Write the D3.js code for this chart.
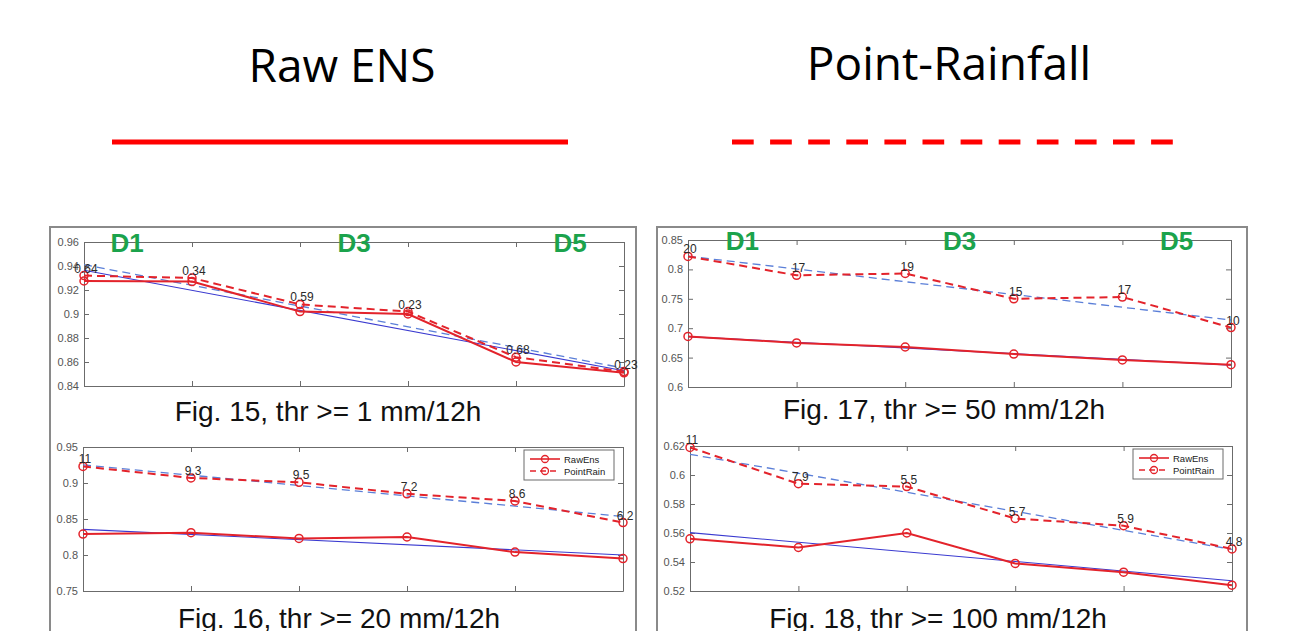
<!DOCTYPE html>
<html>
<head>
<meta charset="utf-8">
<script src="https://cdn.jsdelivr.net/npm/d3@7"></script>
<style>
	body { margin: 0; background: #fff; }
	svg { display: block; }
	text { font-family: "Liberation Sans", Arial, sans-serif; }
	.slideTitle { font-family: "Open Sans", "Noto Sans", sans-serif; fill: #000; }
</style>
</head>
<body>
<div id="chart"></div>
<script>
// lead time steps (x axis of every small plot)
var leadSteps = [1, 2, 3, 4, 5, 6];

var fig15Raw    = [0.9275, 0.927, 0.902, 0.900, 0.860, 0.851];
var fig15Point  = [0.932, 0.930, 0.908, 0.902, 0.864, 0.852];
var fig15Labels = ['0.64', '0.34', '0.59', '0.23', '0.68', '0.23'];
var fig15Ticks  = [0.84, 0.86, 0.88, 0.9, 0.92, 0.94, 0.96];

var fig17Raw    = [0.686, 0.675, 0.668, 0.656, 0.646, 0.638];
var fig17Point  = [0.822, 0.790, 0.793, 0.750, 0.753, 0.701];
var fig17Labels = ['20', '17', '19', '15', '17', '10'];
var fig17Ticks  = [0.6, 0.65, 0.7, 0.75, 0.8, 0.85];

var fig16Raw    = [0.829, 0.831, 0.823, 0.825, 0.804, 0.795];
var fig16Point  = [0.923, 0.907, 0.901, 0.885, 0.875, 0.845];
var fig16Labels = ['11', '9.3', '9.5', '7.2', '8.6', '6.2'];
var fig16Ticks  = [0.75, 0.8, 0.85, 0.9, 0.95];

var fig18Raw    = [0.556, 0.550, 0.560, 0.539, 0.533, 0.524];
var fig18Point  = [0.619, 0.594, 0.592, 0.570, 0.565, 0.549];
var fig18Labels = ['11', '7.9', '5.5', '5.7', '5.9', '4.8'];
var fig18Ticks  = [0.52, 0.54, 0.56, 0.58, 0.6, 0.62];

var dayNames      = ['D1', 'D3', 'D5'];
var dayStepsLeft  = [1.4, 3.5, 5.5];
var dayStepsRight = [1.5, 3.5, 5.5];
var seriesNames   = ['RawEns', 'PointRain'];

var RED = '#e3232b';

var svg = d3.select('#chart')
	.append('svg')
	.attr('width', 1297)
	.attr('height', 631);

svg.append('rect').attr('width', 1297).attr('height', 631).attr('fill', '#fff');

// slide headers
svg.append('text').attr('class', 'slideTitle')
	.attr('x', 342).attr('y', 82).attr('text-anchor', 'middle')
	.attr('font-size', 46).text('Raw ENS');
svg.append('text').attr('class', 'slideTitle')
	.attr('x', 949).attr('y', 80).attr('text-anchor', 'middle')
	.attr('font-size', 46).text('Point-Rainfall');

svg.append('line')
	.attr('x1', 112).attr('x2', 568).attr('y1', 142).attr('y2', 142)
	.attr('stroke', '#ff0000').attr('stroke-width', 5);
svg.append('line')
	.attr('x1', 732).attr('x2', 1173).attr('y1', 142).attr('y2', 142)
	.attr('stroke', '#ff0000').attr('stroke-width', 5)
	.attr('stroke-dasharray', '21.7,16.4');

// outer frames of the two pasted figure columns
svg.append('rect').attr('x', 50).attr('y', 227).attr('width', 586).attr('height', 420)
	.attr('fill', 'none').attr('stroke', '#8a8a8a').attr('stroke-width', 2);
svg.append('rect').attr('x', 657).attr('y', 227).attr('width', 590).attr('height', 420)
	.attr('fill', 'none').attr('stroke', '#8a8a8a').attr('stroke-width', 2);

// least squares fit, the blue lines of the matlab figures
function linearFit(xs, ys){
	var mx = d3.mean(xs), my = d3.mean(ys);
	var sxy = d3.sum(xs, function(x, i){ return (x - mx) * (ys[i] - my); });
	var sxx = d3.sum(xs, function(x){ return (x - mx) * (x - mx); });
	var b = sxy / sxx;
	return function(x){ return my + b * (x - mx); };
}

function drawPanel(p){
	var g = svg.append('g');

	var x = d3.scaleLinear().domain(d3.extent(leadSteps)).range([p.left, p.right]);
	var y = d3.scaleLinear().domain(d3.extent(p.ticks)).range([p.bottom, p.top]);

	var fmt = d3.format('~g');

	g.append('rect')
		.attr('x', p.left).attr('y', p.top)
		.attr('width', p.right - p.left).attr('height', p.bottom - p.top)
		.attr('fill', '#fff');

	var axes = [
		{ a: d3.axisLeft(y).tickValues(p.ticks).tickFormat(fmt), t: 'translate(' + p.left + ',0)' },
		{ a: d3.axisRight(y).tickValues(p.ticks).tickFormat(''), t: 'translate(' + p.right + ',0)' },
		{ a: d3.axisBottom(x).tickValues(leadSteps).tickFormat(''), t: 'translate(0,' + p.bottom + ')' },
		{ a: d3.axisTop(x).tickValues(leadSteps).tickFormat(''), t: 'translate(0,' + p.top + ')' }
	];
	axes.forEach(function(ax){
		var s = g.append('g')
			.attr('transform', ax.t)
			.call(ax.a.tickSizeInner(-5).tickSizeOuter(0).tickPadding(5));
		s.select('.domain').attr('stroke', '#6b6b6b');
		s.selectAll('.tick line').attr('stroke', '#6b6b6b');
		s.selectAll('.tick text')
			.attr('fill', '#555')
			.attr('font-size', 11)
			.attr('font-family', '"Liberation Sans", Arial, sans-serif');
	});

	// trend lines
	var fitRaw = linearFit(leadSteps, p.raw);
	var fitPoint = linearFit(leadSteps, p.point);
	var ends = d3.extent(leadSteps);

	g.append('line')
		.attr('x1', x(ends[0])).attr('y1', y(fitRaw(ends[0])))
		.attr('x2', x(ends[1])).attr('y2', y(fitRaw(ends[1])))
		.attr('stroke', '#3a3ad0').attr('stroke-width', 1.1);
	g.append('line')
		.attr('x1', x(ends[0])).attr('y1', y(fitPoint(ends[0])))
		.attr('x2', x(ends[1])).attr('y2', y(fitPoint(ends[1])))
		.attr('stroke', '#5b7fd8').attr('stroke-width', 1.3)
		.attr('stroke-dasharray', '8,5');

	var line = d3.line()
		.x(function(d, i){ return x(leadSteps[i]); })
		.y(function(d){ return y(d); });

	g.append('path').datum(p.raw)
		.attr('d', line).attr('fill', 'none')
		.attr('stroke', RED).attr('stroke-width', 2);
	g.append('path').datum(p.point)
		.attr('d', line).attr('fill', 'none')
		.attr('stroke', RED).attr('stroke-width', 2)
		.attr('stroke-dasharray', '8,5');

	[p.raw, p.point].forEach(function(series){
		g.selectAll(null)
			.data(series)
			.enter()
			.append('circle')
			.attr('cx', function(d, i){ return x(leadSteps[i]); })
			.attr('cy', function(d){ return y(d); })
			.attr('r', 4)
			.attr('fill', 'none')
			.attr('stroke', RED)
			.attr('stroke-width', 1.5);
	});

	// numbers written over the point rainfall markers
	g.selectAll(null)
		.data(p.labels)
		.enter()
		.append('text')
		.attr('x', function(d, i){ return x(leadSteps[i]) + 2; })
		.attr('y', function(d, i){ return y(p.point[i]) - 3; })
		.attr('text-anchor', 'middle')
		.attr('font-size', 12)
		.attr('fill', '#2a2a2a')
		.text(function(d){ return d; });

	if (p.days) {
		g.selectAll(null)
			.data(dayNames)
			.enter()
			.append('text')
			.attr('x', function(d, i){ return x(p.days[i]); })
			.attr('y', p.top + 10)
			.attr('text-anchor', 'middle')
			.attr('font-size', 26)
			.attr('font-weight', 'bold')
			.attr('fill', '#1ba34c')
			.text(function(d){ return d; });
	}

	if (p.legend) {
		var lw = 90, lh = 30;
		var lx = p.right - 9 - lw, ly = p.top + 3;
		var lg = g.append('g').attr('transform', 'translate(' + lx + ',' + ly + ')');
		lg.append('rect').attr('width', lw).attr('height', lh)
			.attr('fill', '#fff').attr('stroke', '#6b6b6b').attr('stroke-width', 1);
		seriesNames.forEach(function(name, i){
			var ry = 9 + i * 12;
			lg.append('line')
				.attr('x1', 6).attr('x2', 36).attr('y1', ry).attr('y2', ry)
				.attr('stroke', RED).attr('stroke-width', 1.6)
				.attr('stroke-dasharray', i ? '6,4' : null);
			lg.append('circle').attr('cx', 21).attr('cy', ry).attr('r', 3.5)
				.attr('fill', 'none').attr('stroke', RED).attr('stroke-width', 1.3);
			lg.append('text').attr('x', 40).attr('y', ry + 3.5)
				.attr('font-size', 9.5).attr('fill', '#222').text(name);
		});
	}

	svg.append('text')
		.attr('x', p.capX).attr('y', p.capY)
		.attr('text-anchor', 'middle')
		.attr('font-size', 28)
		.attr('fill', '#111')
		.text(p.caption);
}

drawPanel({ raw: fig15Raw, point: fig15Point, labels: fig15Labels, ticks: fig15Ticks,
	left: 84, right: 624, top: 242, bottom: 386, days: dayStepsLeft,
	caption: 'Fig. 15, thr >= 1 mm/12h', capX: 328, capY: 421 });
drawPanel({ raw: fig17Raw, point: fig17Point, labels: fig17Labels, ticks: fig17Ticks,
	left: 688, right: 1231, top: 240, bottom: 387, days: dayStepsRight,
	caption: 'Fig. 17, thr >= 50 mm/12h', capX: 944, capY: 419 });
drawPanel({ raw: fig16Raw, point: fig16Point, labels: fig16Labels, ticks: fig16Ticks,
	left: 83, right: 623, top: 447, bottom: 591, legend: true,
	caption: 'Fig. 16, thr >= 20 mm/12h', capX: 339, capY: 628 });
drawPanel({ raw: fig18Raw, point: fig18Point, labels: fig18Labels, ticks: fig18Ticks,
	left: 690, right: 1232, top: 446, bottom: 591, legend: true,
	caption: 'Fig. 18, thr >= 100 mm/12h', capX: 938, capY: 628 });
</script>
</body>
</html>
